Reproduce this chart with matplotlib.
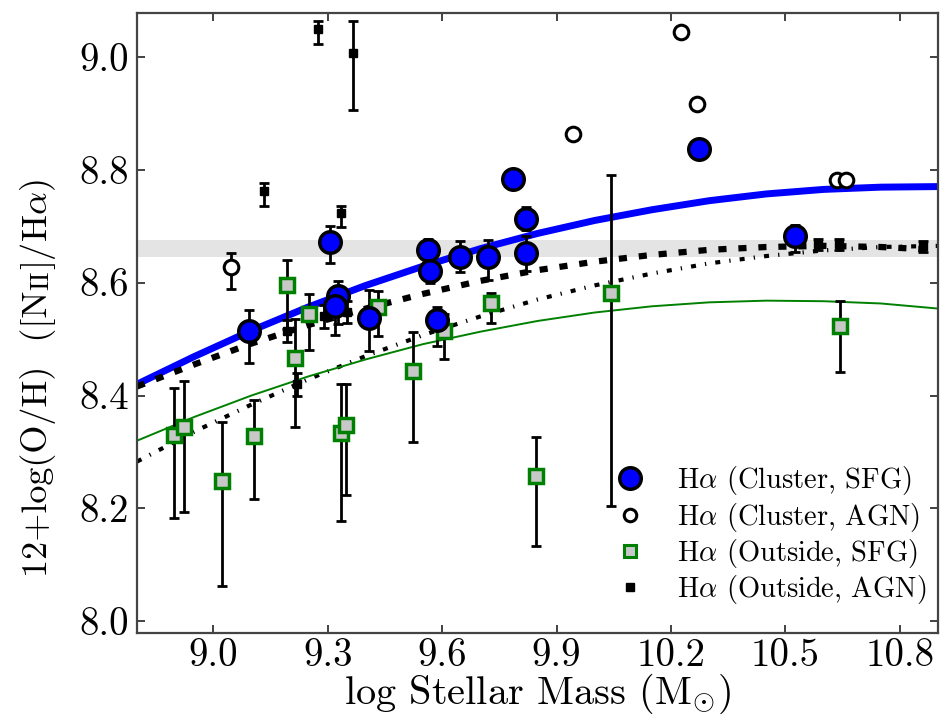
import matplotlib
matplotlib.use("Agg")
import matplotlib.pyplot as plt
from matplotlib.lines import Line2D

plt.rcParams['font.family'] = 'serif'
plt.rcParams['font.serif'] = ['cmr10']
plt.rcParams['mathtext.fontset'] = 'cm'
plt.rcParams['axes.unicode_minus'] = False
plt.rcParams['axes.formatter.use_mathtext'] = True

# ---- data ----
cl_sfg_x = [9.093, 9.305, 9.327, 9.319, 9.408, 9.563, 9.568, 9.646, 9.586, 9.719, 9.820, 9.820, 9.785, 10.273, 10.525]
cl_sfg_y = [8.515, 8.671, 8.577, 8.559, 8.537, 8.657, 8.620, 8.646, 8.533, 8.645, 8.652, 8.713, 8.783, 8.836, 8.682]
cl_sfg_lo = [0.058, 0.036, 0.050, 0.052, 0.058, 0.020, 0.020, 0.028, 0.045, 0.040, 0.032, 0.020, 0.0, 0.0, 0.027]
cl_sfg_up = [0.037, 0.030, 0.025, 0.030, 0.050, 0.020, 0.020, 0.028, 0.023, 0.030, 0.030, 0.020, 0.0, 0.0, 0.020]

cl_agn_x = [9.047, 9.944, 10.227, 10.269, 10.635, 10.659]
cl_agn_y = [8.627, 8.863, 9.044, 8.917, 8.782, 8.782]
cl_agn_lo = [0.038, 0, 0, 0, 0, 0]
cl_agn_up = [0.025, 0, 0, 0, 0, 0]

out_sfg_x = [8.896, 8.922, 9.024, 9.108, 9.192, 9.213, 9.252, 9.335, 9.347, 9.433, 9.524, 9.605, 9.728, 9.846, 10.043, 10.643]
out_sfg_y = [8.330, 8.344, 8.248, 8.329, 8.595, 8.467, 8.544, 8.334, 8.348, 8.557, 8.444, 8.514, 8.563, 8.258, 8.581, 8.523]
out_sfg_up = [0.083, 0.082, 0.105, 0.063, 0.045, 0.069, 0.035, 0.086, 0.072, 0.028, 0.068, 0.030, 0.019, 0.068, 0.209, 0.044]
out_sfg_lo = [0.147, 0.150, 0.186, 0.113, 0.078, 0.123, 0.064, 0.157, 0.124, 0.052, 0.126, 0.049, 0.034, 0.124, 0.376, 0.082]

out_agn_x = [9.132, 9.275, 9.366, 9.336, 9.194, 9.220, 9.290, 9.350, 10.585, 10.640, 10.860]
out_agn_y = [8.762, 9.049, 9.006, 8.724, 8.514, 8.420, 8.540, 8.548, 8.668, 8.668, 8.664]
out_agn_up = [0.015, 0.014, 0.057, 0.012, 0.02, 0.02, 0.02, 0.02, 0.01, 0.01, 0.01]
out_agn_lo = [0.026, 0.026, 0.101, 0.025, 0.02, 0.02, 0.02, 0.02, 0.01, 0.01, 0.01]

# fitted relations, values
fit_x = [8.8, 8.95, 9.1, 9.25, 9.4, 9.55, 9.7, 9.85, 10.0, 10.15, 10.3, 10.45, 10.6, 10.75, 10.9]
fit_cluster = [8.420, 8.469, 8.515, 8.557, 8.595, 8.629, 8.660, 8.687, 8.710, 8.729, 8.745, 8.757, 8.765, 8.769, 8.770]
fit_all = [8.416, 8.455, 8.492, 8.525, 8.554, 8.580, 8.603, 8.622, 8.637, 8.649, 8.658, 8.663, 8.665, 8.663, 8.658]
fit_ref = [8.283, 8.336, 8.384, 8.429, 8.470, 8.507, 8.540, 8.570, 8.595, 8.616, 8.634, 8.647, 8.657, 8.663, 8.665]
fit_outside = [8.320, 8.362, 8.400, 8.434, 8.464, 8.491, 8.513, 8.532, 8.547, 8.558, 8.565, 8.568, 8.567, 8.563, 8.554]

band = [8.645, 8.675]

xticks = [9.0, 9.3, 9.6, 9.9, 10.2, 10.5, 10.8]
yticks = [8.0, 8.2, 8.4, 8.6, 8.8, 9.0]

fig = plt.figure(figsize=(9.43, 7.20), dpi=100)
ax = fig.add_axes([0.1453, 0.1213, 0.8494, 0.8611])

ax.axhspan(band[0], band[1], color='#e4e4e4', lw=0, zorder=0)

ax.plot(fit_x, fit_cluster, color='#0000ff', lw=5.0, solid_capstyle='butt', zorder=2)
ax.plot(fit_x, fit_all, color='black', lw=4.5, ls=(0, (1.3, 1.9)), zorder=2)
ax.plot(fit_x, fit_ref, color='black', lw=3.0, ls=(0, (1.2, 2.2, 0.3, 2.2)), zorder=2)
ax.plot(fit_x, fit_outside, color='green', lw=1.4, zorder=2)

ekw = dict(fmt='none', ecolor='black', elinewidth=2, capsize=3.3, capthick=2, zorder=3)
ax.errorbar(out_sfg_x, out_sfg_y, yerr=[out_sfg_lo, out_sfg_up], **ekw)
ax.errorbar(out_agn_x, out_agn_y, yerr=[out_agn_lo, out_agn_up], **ekw)
ax.errorbar(cl_sfg_x, cl_sfg_y, yerr=[cl_sfg_lo, cl_sfg_up], **ekw)
ax.errorbar(cl_agn_x, cl_agn_y, yerr=[cl_agn_lo, cl_agn_up], **ekw)

ax.plot(out_sfg_x, out_sfg_y, ls='none', marker='s', ms=10, mfc='#c8c8c8', mec='green', mew=2.5, zorder=4)
ax.plot(out_agn_x, out_agn_y, ls='none', marker='s', ms=6, mfc='black', mec='black', mew=1, zorder=4)
ax.plot(cl_sfg_x, cl_sfg_y, ls='none', marker='o', ms=15.5, mfc='#0000ff', mec='black', mew=2.5, zorder=5)
ax.plot(cl_agn_x, cl_agn_y, ls='none', marker='o', ms=10.5, mfc='white', mec='black', mew=2.2, zorder=5)

ax.set_xlim(8.8, 10.9)
ax.set_ylim(7.98, 9.078)
ax.set_xticks(xticks)
ax.set_yticks(yticks)
ax.set_xticklabels(['%.1f' % v for v in xticks])
ax.set_yticklabels(['%.1f' % v for v in yticks])
ax.tick_params(direction='in', length=6, width=1.3, top=True, right=True, labelsize=28, pad=6, color='#333333')
ax.tick_params(axis='x', pad=4)
for s in ax.spines.values():
    s.set_linewidth(1.6)
    s.set_color('#444444')

ax.set_xlabel(r'log Stellar Mass (M$_{\odot}$)', fontsize=29, labelpad=-1.5)

# y label built from pieces so that "II" is in small capitals
ylab_fs = 26
t1 = fig.text(0.040, 1 - 577 / 720, '12+log(O/H)  ([N', rotation=90, fontsize=ylab_fs,
              ha='center', va='bottom')
t2 = ax.annotate('II', xy=(1, 1), xycoords=t1, xytext=(-1.5, 0.5), textcoords='offset points',
                 rotation=90, fontsize=ylab_fs * 0.74, ha='right', va='bottom',
                 annotation_clip=False)
t3 = ax.annotate(r']/H$\alpha$)', xy=(0.5, 1), xycoords=(t1, t2), xytext=(0, 0.5),
                 textcoords='offset points', rotation=90, fontsize=ylab_fs,
                 ha='center', va='bottom', annotation_clip=False)

handles = [
    Line2D([], [], ls='none', marker='o', ms=15.5, mfc='#0000ff', mec='black', mew=2.5),
    Line2D([], [], ls='none', marker='o', ms=9, mfc='white', mec='black', mew=2.2),
    Line2D([], [], ls='none', marker='s', ms=8, mfc='#c8c8c8', mec='green', mew=2.2),
    Line2D([], [], ls='none', marker='s', ms=6, mfc='black', mec='black'),
]
labels = [r'H$\alpha$ (Cluster, SFG)', r'H$\alpha$ (Cluster, AGN)',
          r'H$\alpha$ (Outside, SFG)', r'H$\alpha$ (Outside, AGN)']
ax.legend(handles, labels, loc='lower right', bbox_to_anchor=(1.0, 0.024), frameon=False,
          fontsize=20.5, handlelength=1.3, handletextpad=1.0, labelspacing=0.12,
          borderaxespad=0.0, numpoints=1)

fig.savefig('out.png', dpi=100)
